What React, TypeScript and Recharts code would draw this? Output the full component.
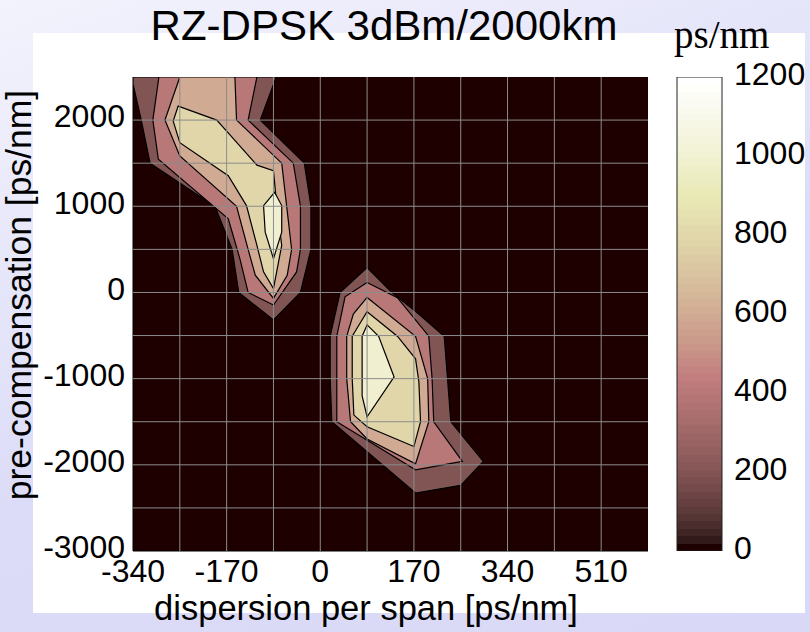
import React from 'react'
import {
  ComposedChart, Scatter, XAxis, YAxis, CartesianGrid, ReferenceLine,
  BarChart, Bar,
} from 'recharts'

const xTicks = [-340, -170, 0, 170, 340, 510]
const yTicks = [-3000, -2000, -1000, 0, 1000, 2000]
const gridX = [-255, -170, -85, 0, 85, 170, 255, 340, 425, 510]
const gridY = [-2500, -2000, -1500, -1000, -500, 0, 500, 1000, 1500, 2000]
const cbTicks = [0, 200, 400, 600, 800, 1000, 1200]
const cbValue = [{ name: 'ps/nm', v: 1200 }]

// contour outlines as [dispersion per span, pre-compensation]
const upper200 = [[-340, 2500], [-80, 2500], [-109, 2000], [-29, 1500], [-17, 1000], [-17, 500], [-36, 0], [-85, -320], [-148, 0], [-160, 500], [-191, 1000], [-309, 1500], [-325, 2000], [-340, 2420]]
const upper400 = [[-293, 2500], [-115, 2500], [-131, 2000], [-49, 1500], [-36, 1000], [-36, 500], [-43, 238], [-85, -146], [-131, 0], [-146, 392], [-167, 854], [-294, 1546], [-304, 2000]]
const upper600 = [[-255, 2500], [-155, 2500], [-152, 2000], [-70, 1500], [-61, 1000], [-52, 500], [-60, 200], [-85, -69], [-118, 200], [-131, 500], [-152, 1000], [-255, 1585], [-282, 2000]]
const upper800 = [[-258, 2162], [-188, 2000], [-170, 1873], [-115, 1477], [-85, 1412], [-79, 1008], [-70, 546], [-85, 46], [-103, 239], [-115, 546], [-134, 1008], [-167, 1354], [-255, 1738], [-267, 1988]]
const upper1000 = [[-83, 1162], [-70, 1008], [-70, 700], [-85, 392], [-100, 700], [-103, 1008]]

const lower200 = [[85, 288], [130, 0], [175, -230], [225, -508], [231, -1000], [237, -1500], [296, -1960], [255, -2238], [173, -2327], [21, -1500], [18, -1000], [18, -508], [36, 0]]
const lower400 = [[85, 115], [140, -60], [197, -508], [203, -1000], [206, -1500], [258, -1960], [173, -2058], [30, -1500], [30, -508], [45, -50]]
const lower600 = [[85, -58], [173, -508], [195, -1000], [197, -1500], [173, -1988], [85, -1700], [55, -1500], [48, -1000], [48, -508], [60, -250]]
const lower800 = [[85, -223], [140, -508], [173, -770], [179, -1038], [182, -1500], [170, -1788], [85, -1558], [61, -1423], [58, -1000], [58, -508], [70, -380]]
const lower1000 = [[85, -377], [106, -508], [134, -980], [85, -1442], [76, -1200], [76, -508]]

const contours: [number, number[][]][] = [
  [200, upper200], [200, lower200],
  [400, upper400], [400, lower400],
  [600, upper600], [600, lower600],
  [800, upper800], [800, lower800],
  [1000, upper1000], [1000, lower1000],
]

// matlab "pink" colormap
function pinkAt(v: number) {
  const hr = Math.min(1, v / 0.375)
  const hg = Math.min(1, Math.max(0, (v - 0.375) / 0.375))
  const hb = Math.min(1, Math.max(0, (v - 0.75) / 0.25))
  const c = (h: number) => Math.round(255 * Math.sqrt((2 * v + h) / 3))
  return `rgb(${c(hr)},${c(hg)},${c(hb)})`
}

function pinkIndex(i: number) {
  const g = i / 63
  const hr = Math.min(1, (i + 1) / 24)
  const hg = Math.min(1, Math.max(0, (i + 1 - 24) / 24))
  const hb = Math.min(1, Math.max(0, (i + 1 - 48) / 16))
  const c = (h: number) => Math.round(255 * Math.sqrt((2 * g + h) / 3))
  return `rgb(${c(hr)},${c(hg)},${c(hb)})`
}

const FONT = '"Liberation Sans", Arial, sans-serif'
const tickStyle = { fontSize: 32, fill: '#000', fontFamily: FONT }
const toPts = (p: number[][]) => p.map(([x, y]) => ({ x, y }))

export default function App() {
  const stops: React.ReactNode[] = []
  for (let i = 0; i < 64; i++) {
    const col = pinkIndex(i)
    stops.push(<stop key={`a${i}`} offset={`${(i / 64) * 100}%`} stopColor={col} />)
    stops.push(<stop key={`b${i}`} offset={`${((i + 1) / 64) * 100}%`} stopColor={col} />)
  }

  return (
    <div style={{
      position: 'absolute', left: 0, top: 0, width: 810, height: 632, overflow: 'hidden',
      background: 'linear-gradient(160deg, #f3f3fd 0%, #dcdcf8 55%, #d9d9f7 100%)',
    }}>
      <div style={{ position: 'absolute', left: 33, top: 33, width: 772, height: 580, background: '#fff' }} />

      <div style={{ position: 'absolute', left: 0, top: 0 }}>
        <ComposedChart width={810} height={632} margin={{ top: 77, right: 162, bottom: 41, left: 33 }}>
          <CartesianGrid fill={pinkIndex(0)} fillOpacity={1} stroke="none" horizontal={false} vertical={false} />
          <XAxis
            type="number" dataKey="x" domain={[-340, 595]} ticks={xTicks} allowDataOverflow
            height={40} tick={tickStyle} tickLine={false} tickMargin={2}
            axisLine={{ stroke: '#000' }}
          />
          <YAxis
            type="number" dataKey="y" domain={[-3000, 2500]} ticks={yTicks} allowDataOverflow
            width={100} tick={{ ...tickStyle, dy: -4 }} tickLine={false}
            axisLine={{ stroke: '#000' }}
          />
          {contours.map(([lvl, poly], i) => (
            <Scatter
              key={i}
              data={toPts(poly)}
              line={{ fill: pinkAt(lvl / 1200), stroke: '#000', strokeWidth: 1.2 }}
              lineJointType="linearClosed"
              shape={() => <g />}
              legendType="none"
              isAnimationActive={false}
            />
          ))}
          {gridX.map(v => (
            <ReferenceLine key={`gx${v}`} x={v} stroke="#8c8c8c" strokeWidth={1} zIndex={1000} />
          ))}
          {gridY.map(v => (
            <ReferenceLine key={`gy${v}`} y={v} stroke="#8c8c8c" strokeWidth={1} zIndex={1000} />
          ))}
        </ComposedChart>
      </div>

      <div style={{ position: 'absolute', left: 0, top: 0 }}>
        <BarChart width={810} height={632} data={cbValue} barCategoryGap={0}
          margin={{ top: 77, right: 8, bottom: 81, left: 677 }}>
          <defs>
            <linearGradient id="cbGrad" x1="0" y1="1" x2="0" y2="0">{stops}</linearGradient>
          </defs>
          <XAxis dataKey="name" hide />
          <YAxis
            orientation="right" domain={[0, 1200]} ticks={cbTicks} allowDataOverflow
            width={80} tick={{ ...tickStyle, dy: -3 }} tickLine={false} tickMargin={6} axisLine={false}
          />
          <Bar dataKey="v" fill="url(#cbGrad)" stroke="#222" strokeWidth={1} isAnimationActive={false} />
        </BarChart>
      </div>

      <svg width={810} height={632} style={{ position: 'absolute', left: 0, top: 0, pointerEvents: 'none' }}>
        <text x={384} y={40} textAnchor="middle" fontSize={42} fontFamily={FONT}>RZ-DPSK 3dBm/2000km</text>
        <text x={674} y={48} fontSize={39} fontFamily='"Liberation Serif", "Times New Roman", serif'>ps/nm</text>
        <text x={366} y={620} textAnchor="middle" fontSize={34.5} fontFamily={FONT}>dispersion per span [ps/nm]</text>
        <text transform="translate(31,295) rotate(-90)" textAnchor="middle" fontSize={35.5} fontFamily={FONT}>pre-compensation [ps/nm]</text>
      </svg>
    </div>
  )
}
